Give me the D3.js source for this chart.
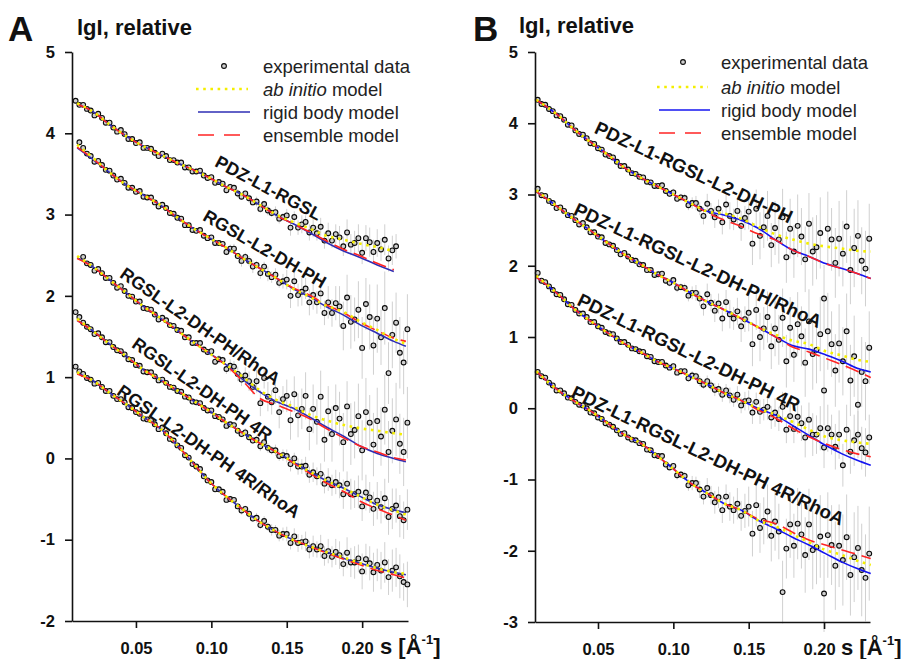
<!DOCTYPE html>
<meta charset="utf-8">
<head>
<style>
body { margin: 0; background: #fff; }
svg text { font-family: "Liberation Sans", Arial, sans-serif; fill: #111; }
</style>
</head>
<body>
<svg id="chart" width="905" height="659"></svg>
<script src="https://d3js.org/d3.v7.min.js"></script>
<script>
// s grid of the measured curves, A^-1
const sGrid = [0.0100,0.0125,0.0150,0.0175,0.0200,0.0225,0.0250,0.0275,0.0300,0.0325,
  0.0350,0.0375,0.0400,0.0425,0.0450,0.0475,0.0500,0.0525,0.0550,0.0575,
  0.0600,0.0625,0.0650,0.0675,0.0700,0.0725,0.0750,0.0775,0.0800,0.0825,
  0.0850,0.0875,0.0900,0.0925,0.0950,0.0975,0.1000,0.1025,0.1050,0.1075,
  0.1100,0.1125,0.1150,0.1175,0.1200,0.1225,0.1250,0.1275,0.1300,0.1325,
  0.1350,0.1375,0.1400,0.1425,0.1450,0.1475,0.1500,0.1525,0.1550,0.1575,
  0.1600,0.1625,0.1650,0.1675,0.1700,0.1725,0.1750,0.1775,0.1800,0.1825,
  0.1850,0.1875,0.1900,0.1925,0.1950,0.1975,0.2000,0.2025,0.2050,0.2075,
  0.2100,0.2125,0.2150,0.2175,0.2200,0.2225,0.2250,0.2275,0.2300];

// s grids of the model curves
const modelSA = [0.011,0.022,0.033,0.044,0.055,0.066,0.077,0.088,0.099,0.110,0.121,0.132,0.143,0.154,0.165,0.176,0.188,0.199,0.210,0.221,0.229];
const modelSB = [0.009,0.023,0.035,0.046,0.057,0.068,0.079,0.090,0.101,0.112,0.123,0.134,0.145,0.156,0.168,0.179,0.190,0.201,0.212,0.222,0.231];

const sTicks = [0.05, 0.10, 0.15, 0.20];
const yTicksA = [-2, -1, 0, 1, 2, 3, 4, 5];
const yTicksB = [-3, -2, -1, 0, 1, 2, 3, 4, 5];

const legendItems = ['experimental data', 'ab initio', 'rigid body model', 'ensemble model'];

// ---- panel A: experimental lgI ----
const expA1 = [4.40,4.35,4.35,4.30,4.28,4.22,4.24,4.19,4.13,4.13,
  4.07,4.02,4.04,3.99,3.93,3.93,3.88,3.89,3.82,3.82,
  3.81,3.76,3.72,3.75,3.72,3.67,3.67,3.64,3.64,3.58,
  3.58,3.53,3.53,3.54,3.48,3.45,3.46,3.39,3.40,3.38,
  3.30,3.34,3.33,3.26,3.22,3.26,3.20,3.15,3.16,3.07,
  3.13,3.05,3.02,3.03,2.95,2.97,2.99,2.84,2.97,2.84,
  2.88,2.91,2.78,2.84,2.77,2.85,2.68,2.77,2.68,2.76,
  2.72,2.61,2.78,2.63,2.65,2.71,2.53,2.71,2.66,2.54,
  2.65,2.57,2.69,2.46,2.56,2.61,null,null,null];
const expA2 = [null,3.89,3.82,3.75,3.72,3.65,3.66,3.61,3.55,3.54,
  3.48,3.43,3.44,3.39,3.33,3.33,3.28,3.29,3.22,3.21,
  3.21,3.15,3.10,3.12,3.08,3.02,3.01,2.96,2.95,2.87,
  2.87,2.81,2.80,2.81,2.74,2.71,2.72,2.65,2.65,2.64,
  2.54,2.58,2.58,2.49,2.43,2.48,2.43,2.36,2.38,2.28,
  2.36,2.27,2.23,2.26,2.16,2.18,2.20,2.00,2.18,2.01,
  2.05,2.09,1.92,2.01,1.92,2.03,1.79,1.92,1.79,1.91,
  1.87,1.63,1.98,1.68,1.71,1.83,1.36,1.90,1.74,1.39,
  1.72,1.49,1.85,1.05,1.52,1.67,1.30,1.18,1.59];
const expA3 = [null,null,2.48,2.40,2.38,2.31,2.33,2.28,2.22,2.22,
  2.16,2.10,2.12,2.06,2.00,1.99,1.93,1.93,1.85,1.84,
  1.83,1.77,1.71,1.73,1.70,1.64,1.63,1.58,1.57,1.49,
  1.49,1.42,1.42,1.42,1.34,1.31,1.32,1.19,1.22,1.21,
  1.10,1.14,1.13,1.04,0.97,1.02,0.95,0.88,0.95,0.68,
  0.99,0.76,0.69,0.84,0.57,0.73,0.77,0.47,0.79,0.53,
  0.61,0.77,0.36,0.61,0.45,0.76,0.23,0.58,0.30,0.62,
  0.49,0.20,0.64,0.30,0.35,0.52,0.10,0.57,0.44,0.17,
  0.46,0.27,0.60,0.08,0.34,0.48,0.18,0.08,0.44];
const expA4 = [1.80,1.74,1.67,1.62,1.59,1.53,1.54,1.49,1.43,1.43,
  1.37,1.33,1.32,1.28,1.22,1.21,1.15,1.14,1.07,1.06,
  1.06,1.01,0.96,0.97,0.93,0.88,0.87,0.83,0.82,0.76,
  0.75,0.70,0.69,0.68,0.62,0.59,0.59,0.52,0.51,0.48,
  0.40,0.42,0.41,0.34,0.30,0.32,0.26,0.22,0.23,0.15,
  0.20,0.13,0.10,0.10,0.03,0.04,0.03,-0.07,0.00,-0.10,
  -0.10,-0.09,-0.20,-0.17,-0.22,-0.19,-0.31,-0.26,-0.33,-0.29,
  -0.33,-0.44,-0.31,-0.44,-0.44,-0.41,-0.59,-0.42,-0.48,-0.62,
  -0.52,-0.60,-0.49,-0.72,-0.62,-0.58,-0.71,-0.76,-0.63];
const expA5 = [1.13,1.07,1.04,0.99,0.97,0.92,0.93,0.88,0.83,0.83,
  0.77,0.73,0.73,0.69,0.63,0.62,0.57,0.55,0.49,0.48,
  0.47,0.42,0.36,0.38,0.31,0.24,0.22,0.16,0.13,0.04,
  0.01,-0.07,-0.10,-0.13,-0.22,-0.27,-0.29,-0.38,-0.38,-0.41,
  -0.51,-0.50,-0.51,-0.59,-0.64,-0.62,-0.68,-0.74,-0.73,-0.82,
  -0.77,-0.84,-0.88,-0.88,-0.95,-0.93,-0.93,-1.04,-0.96,-1.04,
  -1.03,-1.02,-1.12,-1.08,-1.12,-1.08,-1.20,-1.14,-1.21,-1.15,
  -1.19,-1.30,-1.16,-1.28,-1.28,-1.23,-1.39,-1.24,-1.29,-1.40,
  -1.31,-1.38,-1.28,-1.46,-1.38,-1.34,-1.45,-1.52,-1.55];

// error bar half-lengths, hundredths of lgI
const errA1 = [1,1,1,1,1,1,1,1,1,1, 1,1,1,1,1,1,1,1,1,1, 1,1,1,1,1,1,1,1,1,1,
  2,2,2,2,2,2,2,2,2,2, 3,4,3,5,4,3,5,4,6,5,4,6,5,7,6,5,
  8,10,7,9,11,8,10,12,9,11,10,13,9,12, 14,12,16,13,15,17,14,16,18,15,17,14,19,16,18,15, 0,0,0];
const errA2 = [1,1,1,1,1,1,1,1,1,1, 1,1,1,1,1,1,1,1,1,1, 1,1,1,1,1,1,1,1,1,1,
  2,2,2,2,2,2,2,2,2,2, 4,5,6,4,7,5,6,8,5,7,6,9,7,8,6,9,
  12,15,11,14,17,13,16,18,14,19,15,20,17,21, 25,30,28,33,27,35,38,32,40,36,42,34,45,38,41,37,44,39,43];
const errA3 = [1,1,1,1,1,1,1,1,1,1, 1,1,1,1,1,1,1,1,1,1, 1,1,1,1,1,1,1,1,1,1,
  2,3,2,3,3,4,3,4,5,4, 6,8,7,9,8,10,12,9,14,16,13,18,15,17,20,16,
  20,24,22,27,25,29,26,30,28,32,27,31,34,29, 33,36,31,38,35,40,37,42,34,39,41,36,43,38,40,45,37,42,44];
const errA4 = [1,1,1,1,1,1,1,1,1,1, 1,1,1,1,1,1,1,1,1,1, 1,1,1,1,1,1,1,1,1,1,
  1,2,1,2,2,1,2,2,2,2, 3,3,4,3,4,5,4,4,5,6,5,6,5,7,6,7,
  8,9,7,10,9,11,10,12,11,13,12,14,13,15, 16,18,15,19,17,20,18,22,19,21,23,20,24,22,25,21,26,23,25];
const errA5 = [1,1,1,1,1,1,1,1,1,1, 1,1,1,1,1,1,1,1,1,1, 1,1,1,1,1,1,1,1,1,1,
  2,1,2,2,1,2,2,3,2,2, 3,4,3,4,5,4,5,4,6,5,6,5,7,6,7,8,
  9,8,10,11,9,12,11,13,10,14,12,15,13,16, 17,15,19,18,20,17,22,19,21,24,20,23,25,22,26,24,27,23,28];

// panel A: models (ab initio, rigid body, ensemble)
const abinA1 = [4.37,4.26,4.10,3.96,3.84,3.74,3.64,3.55,3.45,3.34,3.24,3.12,3.00,2.91,2.83,2.74,2.69,2.64,2.60,2.55,null];
const rigidA1 = [4.36,4.26,4.10,3.96,3.84,3.74,3.64,3.55,3.45,3.34,3.24,3.12,2.99,2.89,2.78,2.66,2.55,2.47,2.38,2.30,null];
const ensA1 = [4.36,4.26,4.10,3.96,3.84,3.74,3.64,3.55,3.45,3.34,3.24,3.12,2.99,2.89,2.79,2.68,2.57,2.49,2.40,2.32,null];
const abinA2 = [3.86,3.69,3.51,3.36,3.24,3.12,2.97,2.83,2.71,2.59,2.46,2.34,2.22,2.09,1.99,1.88,1.80,1.68,1.58,1.47,1.41];
const rigidA2 = [3.82,3.67,3.51,3.36,3.24,3.12,2.97,2.83,2.71,2.59,2.46,2.34,2.22,2.09,1.99,1.87,1.76,1.64,1.54,1.44,1.38];
const ensA2 = [3.83,3.68,3.51,3.36,3.24,3.12,2.97,2.83,2.71,2.59,2.46,2.34,2.22,2.10,2.01,1.89,1.79,1.67,1.57,1.48,1.44];
const abinA3 = [2.49,2.35,2.19,2.03,1.87,1.73,1.58,1.43,1.29,1.15,1.00,0.84,0.72,0.64,0.54,0.47,0.41,0.37,0.34,0.31,0.29];
const rigidA3 = [2.47,2.35,2.19,2.03,1.87,1.73,1.58,1.43,1.29,1.15,0.97,0.82,0.70,0.62,0.51,0.39,0.27,0.15,0.06,0.00,-0.04];
const ensA3 = [2.46,2.35,2.19,2.03,1.87,1.73,1.58,1.43,1.29,1.14,0.95,0.74,0.66,0.58,0.49,0.37,0.25,0.15,0.08,0.01,-0.02];
const abinA4 = [1.72,1.56,1.40,1.25,1.09,0.97,0.84,0.71,0.58,0.44,0.31,0.19,0.08,-0.04,-0.16,-0.27,-0.37,-0.47,-0.57,-0.64,-0.69];
const rigidA4 = [1.70,1.56,1.40,1.25,1.09,0.97,0.84,0.71,0.58,0.44,0.31,0.19,0.08,-0.04,-0.16,-0.27,-0.37,-0.47,-0.57,-0.63,-0.67];
const ensA4 = [1.70,1.56,1.40,1.25,1.09,0.97,0.84,0.71,0.58,0.44,0.31,0.19,0.08,-0.05,-0.18,-0.30,-0.41,-0.53,-0.62,-0.70,-0.76];
const abinA5 = [1.06,0.95,0.80,0.66,0.51,0.37,0.17,-0.06,-0.29,-0.47,-0.63,-0.78,-0.90,-1.00,-1.08,-1.15,-1.22,-1.29,-1.35,-1.40,-1.42];
const rigidA5 = [1.05,0.95,0.80,0.66,0.51,0.37,0.17,-0.06,-0.29,-0.47,-0.63,-0.78,-0.90,-1.00,-1.08,-1.15,-1.23,-1.29,-1.35,-1.40,-1.43];
const ensA5 = [1.04,0.95,0.80,0.66,0.51,0.37,0.17,-0.06,-0.29,-0.47,-0.63,-0.78,-0.90,-1.00,-1.08,-1.16,-1.24,-1.31,-1.38,-1.43,-1.47];

// ---- panel B: experimental lgI ----
const expB1 = [4.33,4.27,4.26,4.20,4.17,4.11,4.10,4.05,3.98,3.97,
  3.90,3.85,3.84,3.79,3.72,3.71,3.65,3.63,3.56,3.54,
  3.52,3.46,3.40,3.40,3.35,3.30,3.29,3.25,3.24,3.18,
  3.17,3.12,3.12,3.13,3.05,3.01,3.03,2.94,2.96,2.95,
  2.85,2.88,2.88,2.80,2.70,2.87,2.77,2.68,2.80,2.61,
  2.86,2.70,2.65,2.77,2.56,2.67,2.76,2.31,2.80,2.42,
  2.54,2.70,2.29,2.53,2.37,2.68,2.12,2.52,2.20,2.56,
  2.41,2.09,2.59,2.20,2.26,2.46,1.54,2.52,2.37,2.04,
  2.38,2.17,2.55,1.94,2.25,2.42,2.07,1.96,2.38];
const expB2 = [3.08,2.99,2.98,2.91,2.88,2.81,2.82,2.77,2.71,2.70,
  2.64,2.58,2.60,2.54,2.47,2.47,2.41,2.40,2.32,2.30,
  2.28,2.22,2.16,2.18,2.13,2.08,2.07,2.02,2.01,1.94,
  1.94,1.87,1.88,1.89,1.79,1.76,1.80,1.69,1.70,1.69,
  1.58,1.62,1.62,1.54,1.43,1.60,1.48,1.37,1.47,1.26,
  1.49,1.32,1.26,1.36,1.15,1.25,1.34,0.90,1.38,1.00,
  1.12,1.28,0.87,1.12,0.96,1.27,0.66,1.13,0.75,1.18,
  1.01,0.64,1.22,0.76,0.82,1.04,0.25,1.08,0.90,0.53,
  0.91,0.66,1.08,0.39,0.73,0.05,0.51,0.38,0.85];
const expB3 = [1.90,1.79,1.77,1.71,1.66,1.60,1.59,1.53,1.46,1.45,
  1.38,1.33,1.33,1.28,1.21,1.21,1.15,1.13,1.07,1.05,
  1.04,0.98,0.93,0.93,0.89,0.84,0.83,0.80,0.79,0.73,
  0.72,0.66,0.65,0.65,0.60,0.57,0.59,0.50,0.52,0.52,
  0.42,0.46,0.45,0.38,0.33,0.38,0.32,0.26,0.27,0.19,
  0.25,0.18,0.12,0.19,0.04,0.10,0.11,-0.06,0.09,-0.05,
  -0.02,0.02,-0.13,-0.06,-0.15,0.02,-0.30,-0.11,-0.29,-0.12,
  -0.21,-0.41,-0.16,-0.37,-0.37,-0.28,-0.55,-0.28,-0.37,-0.54,
  -0.37,-0.80,-0.30,-0.61,-0.45,-0.37,-0.56,-0.62,-0.41];
const expB4 = [0.51,0.45,0.43,0.36,0.32,0.25,0.25,0.21,0.15,0.14,
  0.09,0.05,0.04,0.00,-0.06,-0.07,-0.13,-0.15,-0.21,-0.23,
  -0.26,-0.31,-0.36,-0.35,-0.41,-0.44,-0.45,-0.49,-0.50,-0.58,
  -0.59,-0.66,-0.67,-0.67,-0.79,-0.83,-0.81,-0.94,-0.93,-0.95,
  -1.08,-1.05,-1.05,-1.14,-1.24,-1.12,-1.22,-1.32,-1.25,-1.43,
  -1.24,-1.38,-1.43,-1.34,-1.51,-1.44,-1.38,-1.76,-1.36,-1.68,
  -1.58,-1.45,-1.79,-1.59,-1.73,-2.58,-1.97,-1.63,-1.93,-1.62,
  -1.77,-2.06,-1.63,-1.99,-1.95,-1.80,-2.60,-1.78,-1.92,-2.21,
  -1.93,-2.13,-1.81,-2.34,-2.09,-1.96,-2.27,-2.38,-2.04];

const errB1 = [1,1,1,1,1,1,1,1,1,1, 1,1,1,1,1,1,1,1,1,1, 1,1,1,1,1,1,1,1,1,1,
  2,3,3,4,3,4,5,4,5,6, 7,8,10,9,12,14,11,15,13,17,16,19,15,18,21,17,
  25,30,27,33,29,35,31,38,34,40,36,42,37,44, 40,46,43,48,45,50,47,52,44,49,53,46,51,48,55,50,47,53,49];
const errB2 = [1,1,1,1,1,1,1,1,1,1, 1,1,1,1,1,1,1,1,1,1, 1,1,1,1,1,1,1,1,1,1,
  2,3,4,3,4,5,4,6,5,6, 8,9,11,10,13,15,12,16,14,18,17,20,16,19,22,18,
  26,31,28,34,30,36,32,39,35,41,37,43,38,45, 42,48,45,50,47,52,49,54,46,51,55,48,53,50,57,52,49,55,51];
const errB3 = [1,1,1,1,1,1,1,1,1,1, 1,1,1,1,1,1,1,1,1,1, 1,1,1,1,1,1,1,1,1,1,
  2,2,3,2,3,3,4,3,4,4, 5,6,5,7,6,8,7,9,8,10,9,11,10,12,11,13,
  14,16,13,17,15,18,16,20,17,21,19,22,20,24, 25,28,24,30,27,31,29,33,28,32,34,30,35,31,36,33,30,34,32];
const errB4 = [1,1,1,1,1,1,1,1,1,1, 1,1,1,1,1,1,1,1,1,1, 1,1,1,1,1,1,1,1,1,1,
  2,3,3,4,4,5,4,6,5,6, 8,10,9,12,11,14,13,16,15,18,17,20,19,22,21,24,
  28,32,30,35,33,38,36,41,39,44,42,47,45,50, 48,53,50,55,52,58,54,60,56,62,58,64,60,57,63,59,65,61,66];

const abinB1 = [4.33,4.12,3.90,3.72,3.55,3.37,3.23,3.11,2.99,2.87,2.76,2.73,2.66,2.55,2.44,2.37,2.31,2.27,2.24,2.21,2.20];
const rigidB1 = [4.33,4.12,3.90,3.72,3.55,3.37,3.23,3.11,2.99,2.87,2.76,2.71,2.64,2.53,2.36,2.22,2.13,2.03,1.96,1.89,1.82];
const ensB1 = [4.33,4.12,3.90,3.72,3.55,3.37,3.23,3.11,2.99,2.87,2.74,2.64,2.55,2.45,2.36,2.22,2.13,2.03,1.96,1.89,1.82];
const abinB2 = [3.06,2.83,2.64,2.48,2.31,2.15,2.01,1.87,1.75,1.61,1.49,1.38,1.26,1.14,1.03,0.95,0.90,0.80,0.74,0.68,0.65];
const rigidB2 = [3.04,2.83,2.64,2.48,2.31,2.15,2.01,1.87,1.75,1.61,1.49,1.38,1.26,1.14,1.00,0.88,0.83,0.75,0.66,0.56,0.51];
const ensB2 = [3.04,2.83,2.64,2.48,2.31,2.15,2.01,1.87,1.75,1.61,1.49,1.38,1.26,1.14,1.00,0.86,0.79,0.70,0.61,0.52,0.43];
const abinB3 = [1.86,1.61,1.38,1.21,1.05,0.90,0.78,0.65,0.55,0.44,0.33,0.21,0.11,0.00,-0.09,-0.19,-0.30,-0.40,-0.45,-0.48,-0.50];
const rigidB3 = [1.84,1.61,1.38,1.21,1.05,0.90,0.78,0.65,0.55,0.44,0.33,0.21,0.11,0.00,-0.10,-0.24,-0.38,-0.52,-0.64,-0.73,-0.80];
const ensB3 = [1.84,1.61,1.38,1.21,1.05,0.90,0.78,0.65,0.55,0.44,0.33,0.21,0.11,-0.02,-0.14,-0.28,-0.40,-0.50,-0.58,-0.64,-0.68];
const abinB4 = [0.52,0.26,0.09,-0.05,-0.22,-0.38,-0.50,-0.68,-0.87,-1.06,-1.20,-1.34,-1.43,-1.57,-1.66,-1.77,-1.88,-1.99,-2.06,-2.14,-2.20];
const rigidB4 = [0.52,0.26,0.09,-0.05,-0.22,-0.38,-0.50,-0.68,-0.87,-1.06,-1.20,-1.34,-1.43,-1.57,-1.69,-1.81,-1.92,-2.04,-2.16,-2.25,-2.32];
const ensB4 = [0.52,0.26,0.09,-0.05,-0.22,-0.38,-0.50,-0.68,-0.87,-1.06,-1.20,-1.34,-1.43,-1.55,-1.62,-1.74,-1.85,-1.92,-1.99,-2.05,-2.11];

const namesA = ['PDZ-L1-RGSL', 'RGSL-L2-DH-PH', 'RGSL-L2-DH-PH/RhoA', 'RGSL-L2-DH-PH 4R', 'RGSL-L2-DH-PH 4R/RhoA'];
const namesB = ['PDZ-L1-RGSL-L2-DH-PH', 'PDZ-L1-RGSL-L2-DH-PH/RhoA', 'PDZ-L1-RGSL-L2-DH-PH 4R', 'PDZ-L1-RGSL-L2-DH-PH 4R/RhoA'];

const panels = [
  {
    letter: 'A', letterX: 8, titleX: 77, titleY: 35,
    xRange: [72, 408], yRange: [621, 52],
    sDomain: [0.0076, 0.2304], yDomain: [-2, 5], yTicks: yTicksA,
    modelS: modelSA, blue: '#2e2eb4', unitX: 380,
    legend: { markX: 224, line: [196, 248], textX: 263, rows: [66, 89, 112, 135] },
    curves: [
      { exp: expA1, err: errA1, abin: abinA1, rigid: rigidA1, ens: ensA1, at: [0.138, 3.33], angle: 28 },
      { exp: expA2, err: errA2, abin: abinA2, rigid: rigidA2, ens: ensA2, at: [0.1355, 2.58], angle: 30 },
      { exp: expA3, err: errA3, abin: abinA3, rigid: rigidA3, ens: ensA3, at: [0.0928, 1.63], angle: 35 },
      { exp: expA4, err: errA4, abin: abinA4, rigid: rigidA4, ens: ensA4, at: [0.0941, 0.855], angle: 35 },
      { exp: expA5, err: errA5, abin: abinA5, rigid: rigidA5, ens: ensA5, at: [0.0984, 0.09], angle: 35 }
    ],
    names: namesA, labelSize: 17.8
  },
  {
    letter: 'B', letterX: 473, titleX: 519, titleY: 33,
    xRange: [535, 870], yRange: [622, 52],
    sDomain: [0.0082, 0.2305], yDomain: [-3, 5], yTicks: yTicksB,
    modelS: modelSB, blue: '#1414f0', unitX: 841,
    legend: { markX: 683, line: [657, 708], textX: 721, rows: [62, 87, 110, 133] },
    curves: [
      { exp: expB1, err: errB1, abin: abinB1, rigid: rigidB1, ens: ensB1, at: [0.1137, 3.315], angle: 25 },
      { exp: expB2, err: errB2, abin: abinB2, rigid: rigidB2, ens: ensB2, at: [0.1164, 2.008], angle: 25 },
      { exp: expB3, err: errB3, abin: abinB3, rigid: rigidB3, ens: ensB3, at: [0.1104, 0.787], angle: 26 },
      { exp: expB4, err: errB4, abin: abinB4, rigid: rigidB4, ens: ensB4, at: [0.1231, -0.66], angle: 25.5 }
    ],
    names: namesB, labelSize: 18.6
  }
];

const yellow = '#f4ee00';
const red = '#ff2424';
const svg = d3.select('#chart');

panels.forEach(p => {
  const x = d3.scaleLinear().domain(p.sDomain).range(p.xRange);
  const y = d3.scaleLinear().domain(p.yDomain).range(p.yRange);
  const g = svg.append('g');

  // error bars
  p.curves.forEach(c => {
    const pts = sGrid.map((s, i) => ({ s, v: c.exp[i], e: c.err[i] / 100 }))
      .filter(d => d.v != null && d.e > 0);
    g.append('g').selectAll('line').data(pts).enter()
      .append('line')
      .attr('x1', d => x(d.s)).attr('x2', d => x(d.s))
      .attr('y1', d => y(d.v - d.e)).attr('y2', d => y(d.v + d.e))
      .attr('stroke', '#d0d0d0').attr('stroke-width', 1);
  });

  // experimental points
  p.curves.forEach(c => {
    const pts = sGrid.map((s, i) => ({ s, v: c.exp[i] })).filter(d => d.v != null);
    g.append('g').selectAll('circle').data(pts).enter()
      .append('circle')
      .attr('cx', d => x(d.s)).attr('cy', d => y(d.v))
      .attr('r', 2.4)
      .attr('fill', '#cfcfcf').attr('stroke', '#0a0a0a').attr('stroke-width', 1.1);
  });

  const line = d3.line()
    .defined(d => d.v != null)
    .x(d => x(d.s)).y(d => y(d.v))
    .curve(d3.curveMonotoneX);
  const model = vals => p.modelS.map((s, i) => ({ s, v: vals[i] }));

  p.curves.forEach(c => {
    g.append('path').attr('d', line(model(c.rigid)))
      .attr('fill', 'none').attr('stroke', p.blue).attr('stroke-width', 1.6);
    g.append('path').attr('d', line(model(c.ens)))
      .attr('fill', 'none').attr('stroke', red).attr('stroke-width', 1.6)
      .attr('stroke-dasharray', '14,7');
    g.append('path').attr('d', line(model(c.abin)))
      .attr('fill', 'none').attr('stroke', yellow).attr('stroke-width', 2.6)
      .attr('stroke-dasharray', '2.6,4.6');
  });

  // curve names
  p.curves.forEach((c, i) => {
    const cx = x(c.at[0]), cy = y(c.at[1]);
    g.append('text')
      .attr('transform', `translate(${cx},${cy}) rotate(${c.angle})`)
      .attr('text-anchor', 'middle').attr('dy', '0.36em')
      .style('font-size', `${p.labelSize}px`).style('font-weight', 'bold')
      .text(p.names[i]);
  });

  // axes
  const yAxis = d3.axisLeft(y).tickValues(p.yTicks).tickFormat(d => String(d))
    .tickSize(7).tickSizeOuter(0).tickPadding(10);
  const xAxis = d3.axisBottom(x).tickValues(sTicks).tickFormat(d3.format('.2f'))
    .tickSize(7).tickSizeOuter(0).tickPadding(14);

  const ya = g.append('g').attr('transform', `translate(${p.xRange[0]},0)`).call(yAxis);
  const xa = g.append('g').attr('transform', `translate(0,${p.yRange[0]})`).call(xAxis);
  [ya, xa].forEach(a => {
    a.select('.domain').attr('stroke', '#111').attr('stroke-width', 1.6);
    a.selectAll('.tick line').attr('stroke', '#111').attr('stroke-width', 1.6);
    a.selectAll('.tick text').attr('fill', '#111')
      .style('font-family', '"Liberation Sans", Arial, sans-serif')
      .style('font-size', '16.5px').style('font-weight', 'bold');
  });
  // last x label sits a little left of its tick, as in the figure
  xa.selectAll('.tick text').filter(d => d === 0.20).attr('dx', -5);

  // x unit
  const unit = g.append('text')
    .attr('x', p.unitX).attr('y', p.yRange[0] + 33)
    .style('font-size', '22px').style('font-weight', 'bold');
  unit.append('tspan').text('s [Å');
  unit.append('tspan').attr('dy', -10).style('font-size', '13px').text('-1');
  unit.append('tspan').attr('dy', 10).text(']');

  // panel letter and title
  g.append('text').attr('x', p.letterX).attr('y', 41)
    .style('font-size', '35px').style('font-weight', 'bold').text(p.letter);
  g.append('text').attr('x', p.titleX).attr('y', p.titleY)
    .style('font-size', '22px').style('font-weight', 'bold').text('lgI, relative');

  // legend
  const lg = p.legend;
  const leg = g.append('g').style('font-size', '18.5px');
  leg.append('circle').attr('cx', lg.markX).attr('cy', lg.rows[0]).attr('r', 2.4)
    .attr('fill', '#cfcfcf').attr('stroke', '#0a0a0a').attr('stroke-width', 1.1);
  leg.append('line').attr('x1', lg.line[0]).attr('x2', lg.line[1])
    .attr('y1', lg.rows[1]).attr('y2', lg.rows[1])
    .attr('stroke', yellow).attr('stroke-width', 2.6).attr('stroke-dasharray', '2.6,4.6');
  leg.append('line').attr('x1', lg.line[0] + 2).attr('x2', lg.line[1] + 2)
    .attr('y1', lg.rows[2]).attr('y2', lg.rows[2])
    .attr('stroke', p.blue).attr('stroke-width', 1.6);
  leg.append('line').attr('x1', lg.line[0] + 2).attr('x2', lg.line[1] - 5)
    .attr('y1', lg.rows[3]).attr('y2', lg.rows[3])
    .attr('stroke', red).attr('stroke-width', 1.6).attr('stroke-dasharray', '16,10');

  lg.rows.forEach((ry, i) => {
    const t = leg.append('text').attr('x', lg.textX).attr('y', ry).attr('dy', '0.36em')
      .style('fill', '#222');
    if (i === 1) {
      t.append('tspan').style('font-style', 'italic').text('ab initio');
      t.append('tspan').text(' model');
    } else {
      t.text(legendItems[i]);
    }
  });
});
</script>
</body>
